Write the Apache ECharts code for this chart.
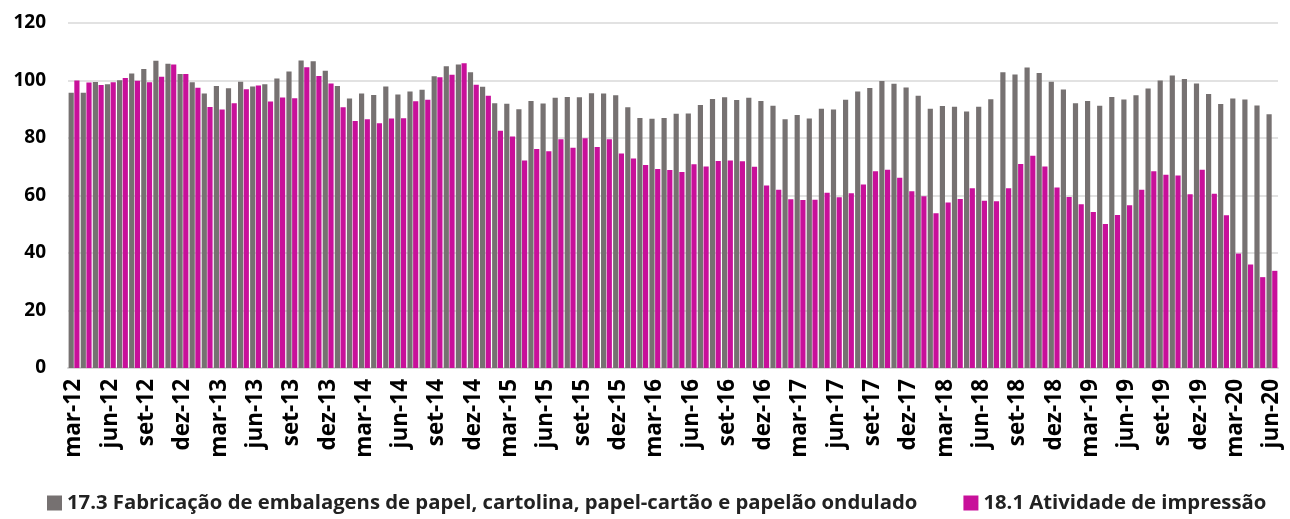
<!DOCTYPE html>
<html>
<head>
<meta charset="utf-8">
<script src="https://cdn.jsdelivr.net/npm/echarts@6/dist/echarts.min.js"></script>
<style>
  html, body { margin: 0; padding: 0; background: #fff; }
  #chart { width: 1290px; height: 519px; }
</style>
</head>
<body>
<div id="chart"></div>
<script>
// meses de mar-12 a jun-20
var monthNames = ['jan', 'fev', 'mar', 'abr', 'mai', 'jun', 'jul', 'ago', 'set', 'out', 'nov', 'dez'];
var months = [];
for (var y = 12; y <= 20; y++) {
  for (var m = 0; m < 12; m++) {
    if (y == 12 && m < 2) continue;
    if (y == 20 && m > 5) continue;
    months.push(monthNames[m] + '-' + y);
  }
}

var seriesNames = [
  '17.3 Fabricação de embalagens de papel, cartolina, papel-cartão e papelão ondulado',
  '18.1 Atividade de impressão'
];

// 17.3 embalagens (cinza)
var embalagens = [
  95.7, 95.7, 99.5, 98.7, 100.1, 102.4, 104.0, 106.9, 105.8, 102.3,
  99.4, 95.5, 98.1, 97.3, 99.6, 97.9, 98.7, 100.7, 103.1, 107.0,
  106.7, 103.4, 98.1, 93.7, 95.5, 95.0, 97.9, 95.1, 96.2, 96.8,
  101.5, 105.0, 105.6, 102.9, 97.8, 92.1, 91.9, 90.0, 92.9, 92.0,
  94.0, 94.3, 94.2, 95.6, 95.5, 94.9, 90.7, 87.0, 86.7, 87.0,
  88.4, 88.5, 91.5, 93.6, 94.2, 93.2, 94.0, 92.9, 91.2, 86.5,
  88.0, 86.8, 90.2, 89.9, 93.3, 96.2, 97.4, 99.8, 98.9, 97.6,
  94.7, 90.2, 91.1, 90.9, 89.2, 90.9, 93.5, 102.9, 102.1, 104.5,
  102.6, 99.6, 96.9, 92.1, 92.9, 91.2, 94.3, 93.4, 94.9, 97.2,
  100.0, 101.7, 100.5, 99.0, 95.3, 91.8, 93.7, 93.4, 91.3, 88.3
];

// 18.1 impressão (magenta)
var impressao = [
  100.0, 99.3, 98.4, 99.4, 100.9, 99.9, 99.4, 101.3, 105.6, 102.3,
  97.5, 90.8, 89.9, 92.1, 97.0, 98.3, 92.7, 94.1, 93.8, 104.6,
  101.6, 99.0, 90.7, 85.9, 86.5, 85.1, 86.8, 86.9, 92.8, 93.3,
  101.1, 102.0, 106.0, 98.5, 94.7, 82.5, 80.5, 72.2, 76.2, 75.4,
  79.6, 76.6, 79.9, 76.9, 79.6, 74.6, 72.9, 70.6, 69.2, 68.9,
  68.2, 70.9, 70.1, 72.0, 72.2, 71.9, 70.0, 63.5, 62.0, 58.7,
  58.4, 58.5, 61.0, 59.4, 60.8, 63.8, 68.4, 69.0, 66.2, 61.5,
  59.7, 53.8, 57.6, 58.8, 62.5, 58.2, 58.0, 62.5, 71.0, 73.8,
  70.1, 62.8, 59.5, 57.0, 54.3, 50.1, 53.2, 56.6, 62.0, 68.4,
  67.2, 67.0, 60.4, 69.0, 60.6, 53.1, 39.8, 36.0, 31.6, 33.8
];

var fontFam = '"Open Sans", Lato, sans-serif';

var chart = echarts.init(document.getElementById('chart'));
var option = {
  animation: false,
  textStyle: { fontFamily: fontFam },
  grid: { left: 68, right: 12, top: 23, bottom: 151 },
  legend: {
    left: 42,
    bottom: 1,
    itemWidth: 15,
    itemHeight: 15,
    itemGap: 46,
    icon: 'rect',
    textStyle: { fontFamily: fontFam, fontWeight: 'bold', fontSize: 20.3, color: '#222' },
    data: seriesNames
  },
  xAxis: {
    type: 'category',
    data: months,
    axisTick: { show: false },
    axisLine: { lineStyle: { color: '#d9d9d9', width: 2 } },
    axisLabel: {
      interval: 2,
      rotate: 90,
      margin: 11,
      fontFamily: fontFam,
      fontWeight: 'bold',
      fontSize: 22.5,
      color: '#000'
    }
  },
  yAxis: {
    type: 'value',
    min: 0,
    max: 120,
    interval: 20,
    axisLine: { show: false },
    axisTick: { show: false },
    splitLine: { lineStyle: { color: '#d9d9d9', width: 1.5 } },
    axisLabel: {
      margin: 22,
      fontFamily: fontFam,
      fontWeight: 'bold',
      fontSize: 19,
      color: '#000'
    }
  },
  series: [
    {
      name: seriesNames[0],
      type: 'bar',
      data: embalagens,
      barGap: '10%',
      barCategoryGap: '10%',
      itemStyle: { color: '#767171' }
    },
    {
      name: seriesNames[1],
      type: 'bar',
      data: impressao,
      itemStyle: { color: '#c8109a' }
    }
  ]
};
chart.setOption(option);
</script>
</body>
</html>
